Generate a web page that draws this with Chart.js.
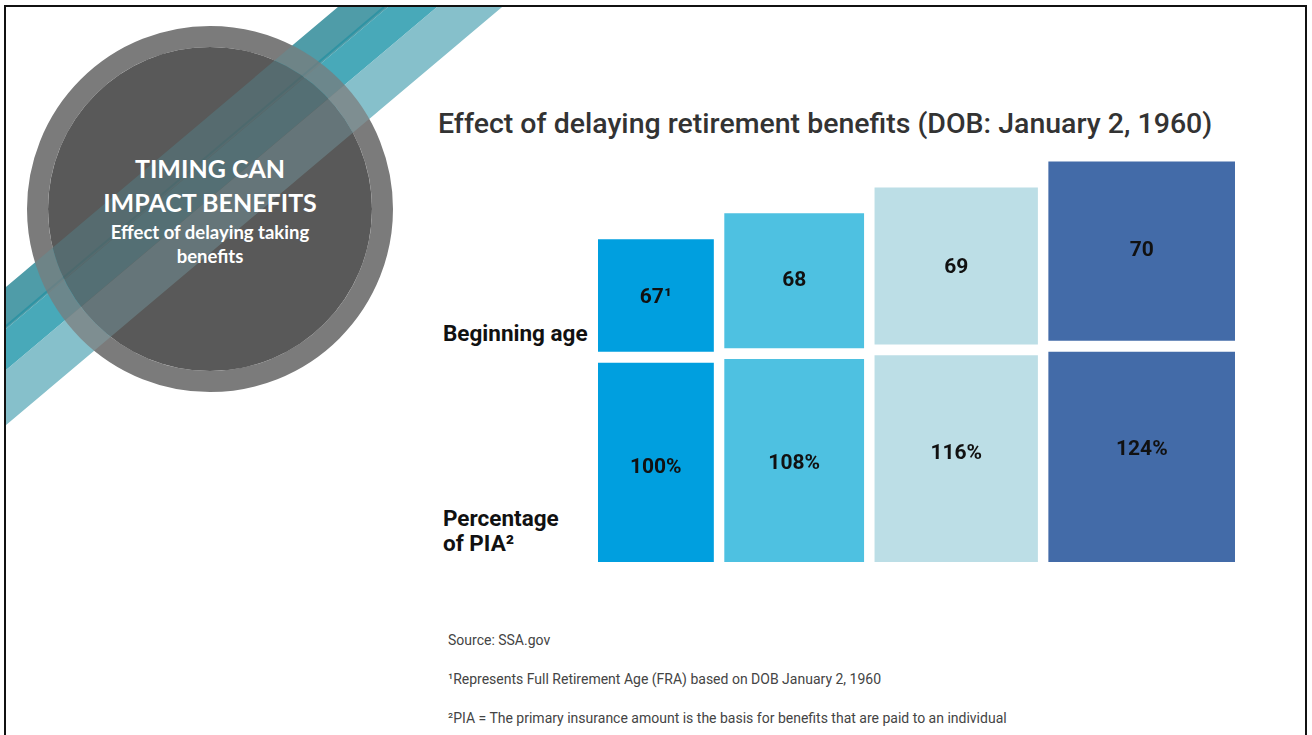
<!DOCTYPE html>
<html><head><meta charset="utf-8">
<script src="https://cdn.jsdelivr.net/npm/chart.js@4.4.1/dist/chart.umd.min.js"></script>
<style>
html,body{margin:0;padding:0;background:#fff;width:1312px;height:735px;overflow:hidden;}
#deco{position:absolute;left:0;top:0;}
#c{position:absolute;left:0;top:0;}
</style></head><body>
<svg id="deco" width="1312" height="735" xmlns="http://www.w3.org/2000/svg">
  <defs>
    <clipPath id="slide"><rect x="6" y="7" width="1299" height="728"/></clipPath>
    <g id="stripes">
      <polygon points="338,7 388,7 6,329 6,287" fill="#4f9ca8"/>
      <polygon points="388,7 437,7 6,370 6,329" fill="#48a9b9"/>
      <polygon points="437,7 502,7 6,425 6,370" fill="#86c0cb"/>
      <line x1="384" y1="7" x2="6" y2="326" stroke="#2f93a3" stroke-width="2"/>
    </g>
  </defs>
  <g clip-path="url(#slide)">
    <use href="#stripes"/>
  </g>
  <circle cx="210" cy="209" r="172.5" fill="none" stroke="#7b7b7b" stroke-width="21"/>
  <circle cx="210" cy="209" r="162" fill="#595959"/>
  <g clip-path="url(#slide)" opacity="0.28">
    <use href="#stripes"/>
  </g>
  <g font-family="Lato" font-weight="700" fill="#fff" text-anchor="middle">
    <text x="210" y="178" font-size="25">TIMING CAN</text>
    <text x="210" y="212" font-size="25">IMPACT BENEFITS</text>
    <text x="210" y="239" font-size="18.5">Effect of delaying taking</text>
    <text x="210" y="263" font-size="18.5">benefits</text>
  </g>
  <path d="M5,735 V6 H1306 V735" fill="none" stroke="#111" stroke-width="2"/>
  <text x="438" y="133" font-family="Roboto" font-weight="500" font-size="28.5" fill="#333">Effect of delaying retirement benefits (DOB: January 2, 1960)</text>
  <g font-family="Roboto" font-weight="700" font-size="22.5" fill="#111">
    <text x="443" y="341">Beginning age</text>
    <text x="443" y="526">Percentage</text>
    <text x="443" y="551">of PIA²</text>
  </g>
  <g font-family="Roboto" font-size="14" fill="#444">
    <text x="448" y="645">Source: SSA.gov</text>
    <text x="448" y="684">¹Represents Full Retirement Age (FRA) based on DOB January 2, 1960</text>
    <text x="448" y="723">²PIA = The primary insurance amount is the basis for benefits that are paid to an individual</text>
  </g>
</svg>
<canvas id="c" width="1312" height="735"></canvas>
<script>
// ---- data ----
const ages = [67, 68, 69, 70];
const ageNotes = ['¹', '', '', ''];
const piaPercent = [100, 108, 116, 124];

// ---- styles / display mapping ----
const colors = ['#009FDF', '#4EC1E1', '#BCDEE6', '#436BA8'];
const pctLabelNudge = [5, 3, -5, -7];   // px, label placement style
const ageLabelNudge = [2, 0, 2, 0];
const W = 1312, H = 735;
const area = {left: 598, right: 1235, top: 150, bottom: 562};
const widthOf = a => 115.5 + 23.6 * (a - 67);
const topHeight = a => 112 + 22.2 * (a - 67);
const bottomHeight = p => 199 + (p - 100) * 0.458;
const blockGap = 11.5;
const areaW = area.right - area.left;
const totalW = ages.reduce((s, a) => s + widthOf(a), 0);
const colGap = (areaW - totalW) / (ages.length - 1);

let cursor = 0;
const datasets = ages.map((a, i) => {
  const w = widthOf(a);
  const cx = cursor + w / 2;
  cursor += w + colGap;
  const hb = bottomHeight(piaPercent[i]);
  return {
    label: String(a) + ageNotes[i],
    data: [
      {x: cx, y: [0, hb]},
      {x: cx, y: [hb + blockGap, hb + blockGap + topHeight(a)]}
    ],
    backgroundColor: colors[i],
    barThickness: w,
    grouped: false,
    borderWidth: 0,
    borderSkipped: false
  };
});

const blockLabels = {
  id: 'blockLabels',
  afterDatasetsDraw(chart) {
    const ctx = chart.ctx;
    ctx.save();
    ctx.fillStyle = '#111';
    ctx.font = '700 21px Roboto';
    ctx.textAlign = 'center';
    ctx.textBaseline = 'middle';
    chart.data.datasets.forEach((ds, i) => {
      const meta = chart.getDatasetMeta(i);
      const texts = [piaPercent[i] + '%', String(ages[i]) + ageNotes[i]];
      const nudges = [pctLabelNudge[i], ageLabelNudge[i]];
      meta.data.forEach((el, j) => {
        const p = el.getProps(['x', 'y', 'base'], true);
        ctx.fillText(texts[j], p.x, (p.y + p.base) / 2 + nudges[j]);
      });
    });
    ctx.restore();
  }
};

new Chart(document.getElementById('c'), {
  type: 'bar',
  data: {datasets},
  options: {
    responsive: false,
    animation: false,
    layout: {padding: {left: area.left, right: W - area.right, top: area.top, bottom: H - area.bottom}},
    scales: {
      x: {type: 'linear', min: 0, max: areaW, offset: false, display: false},
      y: {min: 0, max: area.bottom - area.top, display: false}
    },
    plugins: {legend: {display: false}, tooltip: {enabled: false}, title: {display: false}}
  },
  plugins: [blockLabels]
});
</script>
</body></html>
